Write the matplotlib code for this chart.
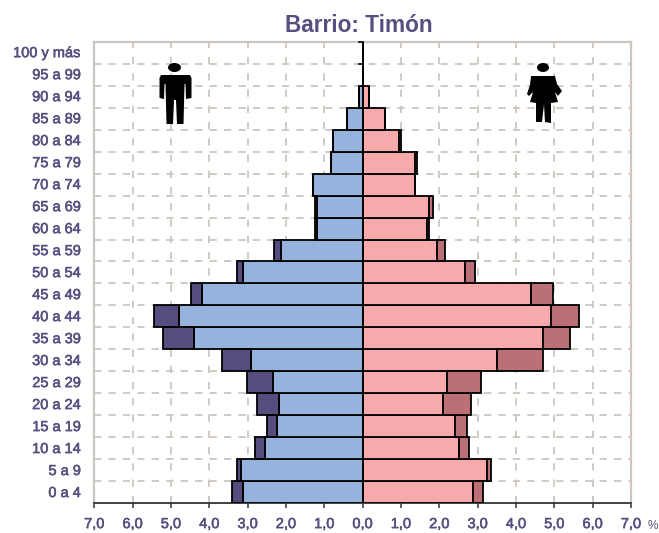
import matplotlib
matplotlib.use('Agg')
import numpy as np
import matplotlib.pyplot as plt
import matplotlib.patheffects as pe
from matplotlib.patches import Polygon, Ellipse

# age groups, bottom to top
edades = ['0 a 4', '5 a 9', '10 a 14', '15 a 19', '20 a 24', '25 a 29', '30 a 34',
          '35 a 39', '40 a 44', '45 a 49', '50 a 54', '55 a 59', '60 a 64', '65 a 69',
          '70 a 74', '75 a 79', '80 a 84', '85 a 89', '90 a 94', '95 a 99', '100 y más']

# inner (light) part and extra (dark) part of each bar, in %
hombres = [3.12, 3.18, 2.56, 2.24, 2.18, 2.34, 2.92, 4.39, 4.80, 4.18, 3.12,
           2.13, 1.19, 1.19, 1.30, 0.82, 0.77, 0.42, 0.10, 0.0, 0.0]
hombres_extra = [0.28, 0.11, 0.26, 0.26, 0.58, 0.68, 0.74, 0.83, 0.63, 0.31, 0.17,
                 0.17, 0.05, 0.05, 0.0, 0.0, 0.0, 0.0, 0.0, 0.0, 0.0]
mujeres = [2.88, 3.24, 2.51, 2.41, 2.10, 2.20, 3.51, 4.70, 4.91, 4.40, 2.67,
           1.94, 1.68, 1.73, 1.36, 1.36, 0.94, 0.58, 0.17, 0.0, 0.0]
mujeres_extra = [0.26, 0.11, 0.27, 0.31, 0.72, 0.88, 1.20, 0.70, 0.74, 0.56, 0.26,
                 0.21, 0.05, 0.11, 0.0, 0.07, 0.06, 0.0, 0.0, 0.0, 0.0]
x_ticks = [-7, -6, -5, -4, -3, -2, -1, 0, 1, 2, 3, 4, 5, 6, 7]

TEXTO = '#565080'
GRIS = '#cdc6c0'

plt.rcParams['font.family'] = ['Liberation Sans', 'DejaVu Sans']

W, H = 659, 533
fig = plt.figure(figsize=(W / 100, H / 100), dpi=100)
ax = fig.add_axes([94.3 / W, 1 - 502.5 / H, (631 - 94.3) / W, (502.5 - 42.3) / H])

y = np.arange(len(edades))
hombres = np.array(hombres)
hombres_extra = np.array(hombres_extra)
mujeres = np.array(mujeres)
mujeres_extra = np.array(mujeres_extra)

# grid first, dashed, under the bars
for v in x_ticks[1:-1]:
    ax.axvline(v, color=GRIS, lw=1.3, dashes=(4, 5), zorder=1)
for b in y[:-1] + 0.5:
    ax.axhline(b, color=GRIS, lw=1.3, dashes=(4, 4), zorder=1)

borde = dict(edgecolor='black', linewidth=1.3, height=1.0, zorder=3)
ax.barh(y, -hombres, color='#95b3dc', **borde)
ax.barh(y, -hombres_extra, left=-hombres, color='#564c7e', **borde)
ax.barh(y, mujeres, color='#f7a9ab', **borde)
ax.barh(y, mujeres_extra, left=mujeres, color='#ba7074', **borde)

# center axis with its small ticks on top
ax.axvline(0, color='black', lw=1.3, zorder=4)
for b in [19.5, 20.5]:
    ax.plot([-0.1, 0], [b, b], color='black', lw=1.2, zorder=4, clip_on=False)

ax.set_xlim(-7, 7)
ax.set_ylim(-0.5, 20.5)
ax.set_xticks(x_ticks)
ax.set_xticklabels([f'{abs(v):.1f}'.replace('.', ',') for v in x_ticks])
# labels in the original run slightly wider apart than the bars
ax.set_yticks(y * 1.0037)
ax.set_yticklabels(edades)
ax.tick_params(axis='x', length=3.5, width=1.1, color='#333333', pad=7,
               labelsize=10.5, labelcolor=TEXTO)
ax.tick_params(axis='y', length=0, pad=9.5, labelsize=10.5, labelcolor=TEXTO)
# a thin stroke gives the heavier look of the original labels
for lab in ax.get_xticklabels() + ax.get_yticklabels():
    lab.set_path_effects([pe.withStroke(linewidth=0.4, foreground=TEXTO)])

for s in ['left', 'right', 'top']:
    ax.spines[s].set_color(GRIS)
    ax.spines[s].set_linewidth(1.6)
ax.spines['bottom'].set_color('#333333')
ax.spines['bottom'].set_linewidth(1.3)

fig.text(358.5 / W, 1 - 26 / H, 'Barrio: Timón', ha='center', va='center',
         fontsize=16.3, fontweight='bold', color=TEXTO)
fig.text(653 / W, 1 - 526 / H, '%', ha='center', va='center', fontsize=8.5, color=TEXTO)

# overlay in pixel coordinates for the two pictograms
over = fig.add_axes([0, 0, 1, 1], facecolor='none')
over.set_xlim(0, W)
over.set_ylim(H, 0)
over.axis('off')

# man
over.add_patch(Ellipse((174.5, 67.5), 13, 9, color='black', lw=0))
over.add_patch(Polygon([(161, 75), (190, 75), (191.5, 78), (191.5, 98), (186, 99),
                        (185.5, 84), (184.5, 84), (183.5, 124), (177, 124), (176, 100),
                        (174, 100), (173, 124), (166.5, 124), (165.5, 84), (164.5, 84),
                        (164, 99), (159.5, 98), (159.5, 78)], color='black', lw=0))
# woman
over.add_patch(Ellipse((543, 67.5), 12, 9, color='black', lw=0))
over.add_patch(Polygon([(531, 76), (555, 76), (557, 84), (562, 91), (558, 96), (555, 92),
                        (558, 102), (551, 103), (551, 123), (545, 122),
                        (544, 104), (542, 122), (536, 122), (536, 103), (530, 102),
                        (533, 92), (529, 96), (527, 94), (530, 85)], color='black', lw=0))

fig.savefig('out.png', dpi=100)
